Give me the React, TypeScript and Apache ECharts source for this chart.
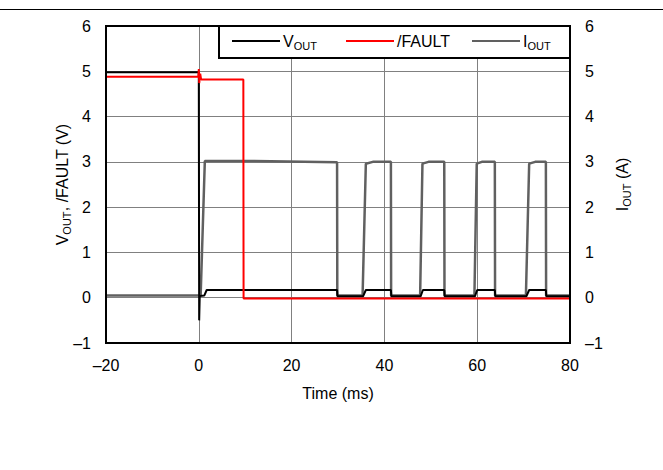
import React, { useEffect, useRef } from "react";
import * as echarts from "echarts";

const xTicks = [-20, 0, 20, 40, 60, 80];
const yTicks = [-1, 0, 1, 2, 3, 4, 5, 6];

const voutT = [-20, -0.2, 0.0, 0.08, 0.2, 1.2, 1.7, 29.8, 29.9, 35.4, 36.0, 41.4, 41.5, 47.8, 48.3, 52.9, 53.0, 59.5, 60.0, 63.8, 63.9, 70.6, 71.2, 74.8, 74.9, 80];
const voutV = [4.98, 4.98, 4.98, -0.5, 0.04, 0.05, 0.17, 0.17, 0.03, 0.03, 0.17, 0.17, 0.03, 0.03, 0.17, 0.17, 0.03, 0.03, 0.17, 0.17, 0.03, 0.03, 0.17, 0.17, 0.03, 0.03];

const faultT = [-20, -0.1, 0.0, 0.1, 0.3, 0.5, 9.6, 9.65, 80];
const faultV = [4.88, 4.88, 5.05, 4.74, 4.95, 4.82, 4.82, -0.02, -0.02];

const ioutT = [-20, 0.4, 1.3, 10, 29.8, 29.85, 35.3, 36.0, 37.5, 41.4, 41.45, 47.7, 48.2, 49.5, 52.9, 52.95, 59.4, 59.9, 61.0, 63.8, 63.85, 70.5, 71.2, 72.5, 74.8, 74.85, 80];
const ioutV = [0.05, 0.05, 3.02, 3.02, 2.99, 0.05, 0.05, 2.96, 3.0, 3.0, 0.05, 0.05, 2.96, 3.0, 3.0, 0.05, 0.05, 2.96, 3.0, 3.0, 0.05, 0.05, 2.96, 3.0, 3.0, 0.05, 0.05];

const legendNames = ["VOUT", "/FAULT", "IOUT"];
const legendLabels = ["{m|V}{s|OUT}", "{m|/FAULT}", "{m|I}{s|OUT}"];
const colors = ["#000000", "#ff0000", "#606060"];

const FONT = "'Liberation Sans', Arial, sans-serif";

const rich = {
  m: { fontSize: 16, lineHeight: 20, fontFamily: FONT, color: "#000", verticalAlign: "middle" },
  s: { fontSize: 11, lineHeight: 12, fontFamily: FONT, color: "#000", verticalAlign: "bottom" },
};

const pairs = (t: number[], v: number[]) => t.map((x, i) => [x, v[i]]);
const fmt = (v: number) => (v < 0 ? "\u2013" + Math.abs(v) : String(v));

export default function App() {
  const ref = useRef<HTMLDivElement>(null);
  useEffect(() => {
    if (!ref.current) return;
    const chart = echarts.init(ref.current, null, { renderer: "svg" });
    const gridLeft = 106, gridTop = 26, gridW = 464, gridH = 317;
    const legX = 219, legY = 26, legH = 32;
    const lineXs = [232, 346, 472];
    const lineLen = 48;
    const graphic: any[] = [
      { type: "line", shape: { x1: 0, y1: 9.5, x2: 663, y2: 9.5 }, style: { stroke: "#000", lineWidth: 1 }, z: 100 },
      { type: "rect", shape: { x: legX, y: legY, width: gridLeft + gridW - legX, height: legH }, style: { fill: "#fff", stroke: "#000", lineWidth: 2 }, z: 100 },
    ];
    legendNames.forEach((n, i) => {
      graphic.push({ type: "line", shape: { x1: lineXs[i], y1: legY + 15, x2: lineXs[i] + lineLen, y2: legY + 15 }, style: { stroke: colors[i], lineWidth: 2 }, z: 101 });
      graphic.push({ type: "text", x: lineXs[i] + lineLen + 3, y: legY + 15, style: { text: legendLabels[i], rich, verticalAlign: "middle", align: "left" }, z: 101 });
    });
    chart.setOption({
      animation: false,
      backgroundColor: "#fff",
      grid: { left: gridLeft, top: gridTop, width: gridW, height: gridH, show: true, borderColor: "#000", borderWidth: 2, backgroundColor: "transparent", z: 10 },
      xAxis: {
        type: "value", min: xTicks[0], max: xTicks[xTicks.length - 1], interval: 20,
        name: "Time (ms)", nameLocation: "middle", nameGap: 42, nameMoveOverlap: false,
        nameTextStyle: { fontSize: 16, fontFamily: FONT, color: "#000" },
        axisLine: { show: false }, axisTick: { show: false },
        axisLabel: { fontSize: 16, fontFamily: FONT, color: "#000", margin: 14, formatter: fmt },
        splitLine: { show: true, lineStyle: { color: "#808080", width: 1 } },
      },
      yAxis: [
        {
          type: "value", min: yTicks[0], max: yTicks[yTicks.length - 1], interval: 1, position: "left",
          name: "{m|V}{s|OUT}{m|, /FAULT (V)}", nameLocation: "middle", nameGap: 34, nameRotate: 90, nameMoveOverlap: false,
          nameTextStyle: { rich },
          axisLine: { show: false }, axisTick: { show: false },
          axisLabel: { fontSize: 16, fontFamily: FONT, color: "#000", margin: 15, formatter: fmt },
          splitLine: { show: true, lineStyle: { color: "#808080", width: 1 } },
        },
        {
          type: "value", min: yTicks[0], max: yTicks[yTicks.length - 1], interval: 1, position: "right",
          name: "{m|I}{s|OUT}{m| (A)}", nameLocation: "middle", nameGap: 42, nameRotate: 90, nameMoveOverlap: false,
          nameTextStyle: { rich },
          axisLine: { show: false }, axisTick: { show: false },
          axisLabel: { fontSize: 16, fontFamily: FONT, color: "#000", margin: 15, formatter: fmt },
          splitLine: { show: false },
        },
      ],
      series: [
        { name: "IOUT", type: "line", yAxisIndex: 1, data: pairs(ioutT, ioutV), showSymbol: false, symbol: "none", lineStyle: { color: colors[2], width: 2.5 }, z: 3 },
        { name: "VOUT", type: "line", data: pairs(voutT, voutV), showSymbol: false, symbol: "none", lineStyle: { color: colors[0], width: 2 }, z: 4 },
        { name: "/FAULT", type: "line", data: pairs(faultT, faultV), showSymbol: false, symbol: "none", lineStyle: { color: colors[1], width: 2 }, z: 5 },
      ],
      graphic,
    });
    return () => chart.dispose();
  }, []);
  return <div ref={ref} style={{ position: "absolute", left: 0, top: 0, width: 663, height: 470, background: "#fff" }} />;
}
